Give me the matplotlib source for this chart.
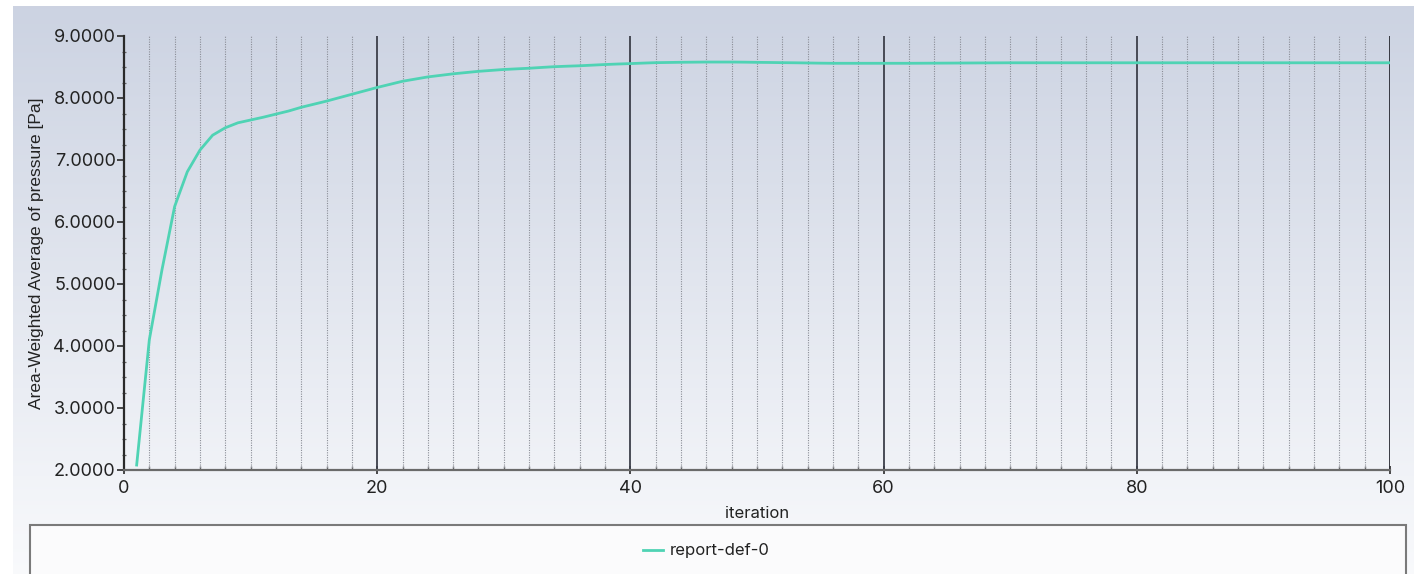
import numpy as np
import matplotlib
matplotlib.use("Agg")
import matplotlib.pyplot as plt
from matplotlib.patches import Rectangle
from matplotlib.ticker import MultipleLocator, FormatStrFormatter

# ---- data ----
iterations = list(range(1, 101))
pressure_head = [2.08, 4.10, 5.23, 6.25, 6.81, 7.16, 7.40, 7.52, 7.60, 7.645,
                 7.69, 7.74, 7.79, 7.85, 7.90, 7.95, 8.005, 8.06, 8.115, 8.17,
                 8.22, 8.27, 8.305, 8.34, 8.365, 8.39, 8.41, 8.43, 8.445, 8.46,
                 8.47, 8.48, 8.493, 8.505, 8.513, 8.52, 8.53, 8.54, 8.548, 8.555,
                 8.563, 8.57, 8.573, 8.576, 8.578, 8.58, 8.58, 8.58, 8.578, 8.575,
                 8.573, 8.57, 8.568, 8.565, 8.562, 8.56, 8.56, 8.56, 8.56, 8.56]
pressure_tail = [8.56, 8.56, 8.561, 8.562, 8.563, 8.564, 8.565, 8.566, 8.567, 8.568,
                 8.568, 8.568, 8.568, 8.568, 8.568, 8.568, 8.568, 8.568, 8.568, 8.568,
                 8.568, 8.568, 8.568, 8.568, 8.568, 8.568, 8.568, 8.568, 8.568, 8.568,
                 8.568, 8.568, 8.568, 8.568, 8.568, 8.568, 8.568, 8.568, 8.568, 8.568]
pressure = pressure_head + pressure_tail
series_name = "report-def-0"
x_label = "iteration"
y_label = "Area-Weighted Average of pressure [Pa]"

plt.rcParams['font.family'] = ['Inter', 'DejaVu Sans']

W, H = 1414, 574
fig = plt.figure(figsize=(W / 100, H / 100), dpi=100)
fig.patch.set_facecolor('white')

# gradient background
bg = fig.add_axes([13 / W, 0, 1 - 13 / W, (H - 6) / H], zorder=-10)
top = np.array([0.800, 0.827, 0.886])
bot = np.array([0.975, 0.979, 0.988])
t = np.linspace(0, 1, 256)[:, None]
grad = top[None, :] * (1 - t) + bot[None, :] * t
bg.imshow(grad[:, None, :], aspect='auto', extent=[0, 1, 0, 1])
bg.axis('off')

ax = fig.add_axes([124 / W, 1 - 470 / H, (1390 - 124) / W, (470 - 36) / H])
ax.set_facecolor('none')
ax.set_zorder(1)

line, = ax.plot(iterations, pressure, color='#4fd3b4', lw=2.0, label=series_name, zorder=5)

ax.set_xlim(0, 100)
ax.set_ylim(2, 9)
ax.xaxis.set_major_locator(MultipleLocator(20))
ax.xaxis.set_minor_locator(MultipleLocator(2))
ax.yaxis.set_major_locator(MultipleLocator(1))
ax.yaxis.set_minor_locator(MultipleLocator(0.25))
ax.yaxis.set_major_formatter(FormatStrFormatter('%.4f'))

# grid lines
for xv in np.arange(2, 100, 2):
    if xv % 20 == 0:
        ax.axvline(xv, color='#3c3f4a', lw=1.3, zorder=2)
    else:
        ax.axvline(xv, color='#8a8d96', lw=0.8, ls=(0, (1, 1.2)), zorder=2)
ax.axvline(100, color='#2a2c35', lw=1.3, zorder=2)

for s in ['top', 'right']:
    ax.spines[s].set_visible(False)
ax.spines['left'].set_color('#2a2a2a')
ax.spines['left'].set_linewidth(1.6)
ax.spines['bottom'].set_color('#6a6a6a')
ax.spines['bottom'].set_linewidth(1.6)

ax.tick_params(axis='y', which='major', direction='out', length=5, width=1.2,
               colors='#2a2a2a', labelsize=13, pad=1)
ax.tick_params(axis='y', which='minor', direction='inout', length=3, width=0.9, colors='#666666')
ax.tick_params(axis='x', which='major', direction='inout', length=6, width=1.2,
               colors='#2a2a2a', labelsize=13, pad=4)
ax.tick_params(axis='x', which='minor', direction='in', length=3, width=1.0, colors='#666666')
for lab in ax.get_xticklabels() + ax.get_yticklabels():
    lab.set_color('#222222')

ax.set_xlabel(x_label, fontsize=12, color='#222222', labelpad=7)
ax.set_ylabel(y_label, fontsize=12.5, color='#222222', labelpad=7,
              family=['Liberation Sans', 'DejaVu Sans'])

# legend box
box = Rectangle((30 / W, -0.05), (1406 - 30) / W, (1 - 525 / H) + 0.05,
                transform=fig.transFigure, facecolor='#fbfbfc', edgecolor='#7a7a7a',
                lw=1.5, zorder=0)
fig.patches.append(box)
fig.legend(handles=[line], labels=[series_name], loc='center',
           bbox_to_anchor=(706 / W, 1 - 551 / H), frameon=False, fontsize=12,
           handlelength=1.2, handletextpad=0.4, labelcolor='#222222')

fig.savefig('out.png', dpi=100)
